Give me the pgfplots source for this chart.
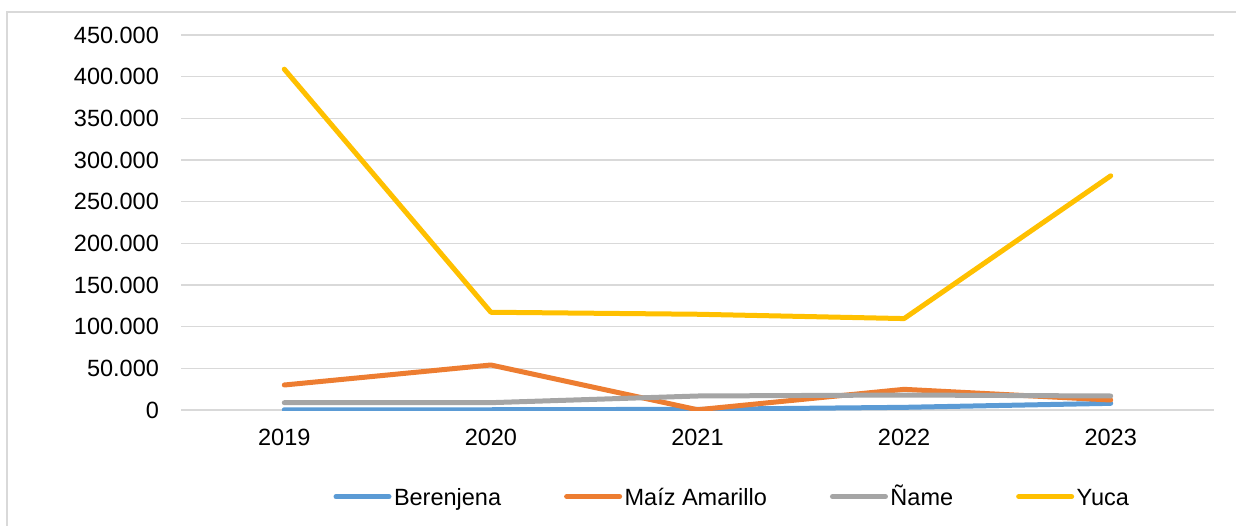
\documentclass[border=0pt]{standalone}
\usepackage{fontspec}
\setmainfont{Liberation Sans}
\usepackage{pgfplots}
\pgfplotsset{compat=1.18}
\definecolor{cBlue}{HTML}{5B9BD5}
\definecolor{cOrange}{HTML}{ED7D31}
\definecolor{cGray}{HTML}{A5A5A5}
\definecolor{cGold}{HTML}{FFC000}
\definecolor{cGrid}{HTML}{D9D9D9}
\begin{document}
\fontsize{11.75}{14}\selectfont
\begin{tikzpicture}
\useasboundingbox (0,0) rectangle (618pt,262.5pt);
\draw[cGrid, line width=0.7pt] (3.4pt,-10pt) -- (3.4pt,256.5pt) -- (700pt,256.5pt);
\begin{axis}[
  at={(90.5pt,57.5pt)}, anchor=south west,
  scale only axis, width=516.5pt, height=187.5pt,
  xmin=-0.5, xmax=4.5, ymin=0, ymax=450000,
  xtick={0,1,2,3,4}, xticklabels={2019,2020,2021,2022,2023},
  ytick={0,50000,100000,150000,200000,250000,300000,350000,400000,450000},
  scaled y ticks=false,
  /pgf/number format/.cd, fixed, precision=0, 1000 sep={.}, assume math mode=true,
  /pgfplots/.cd,
  axis line style={draw=none},
  tick style={draw=none},
  ymajorgrids,
  major grid style={color=cGrid, line width=0.8pt},
  yticklabel style={anchor=east, inner sep=0pt, xshift=-10.85pt},
  xticklabel style={anchor=north, inner sep=0pt, yshift=-9.3pt},
  legend columns=4,
  legend style={at={(rel axis cs:0.14763,-0.232)}, anchor=west, draw=none, fill=none,
    inner sep=0pt, outer sep=0pt,
    nodes={inner sep=0pt, text height=8.5pt, text depth=0pt},
    column sep=1.25pt,
    /tikz/every even column/.append style={column sep=31.5pt}},
  legend image code/.code={\draw[#1] (0pt,0.2pt) -- (26.5pt,0.2pt);},
]
\addplot[color=cBlue, line width=2.5pt, line cap=round, line join=round]
  coordinates {(0,300) (1,300) (2,800) (3,3200) (4,8000)};
\addlegendentry{Berenjena}
\addplot[color=cOrange, line width=2.5pt, line cap=round, line join=round]
  coordinates {(0,30000) (1,54000) (2,300) (3,24800) (4,12000)};
\addlegendentry{Maíz Amarillo}
\addplot[color=cGray, line width=2.5pt, line cap=round, line join=round]
  coordinates {(0,8800) (1,8800) (2,16800) (3,18000) (4,16800)};
\addlegendentry{Ñame}
\addplot[color=cGold, line width=2.5pt, line cap=round, line join=round]
  coordinates {(0,409000) (1,117300) (2,114900) (3,109700) (4,281000)};
\addlegendentry{Yuca}
\end{axis}
\end{tikzpicture}
\end{document}
